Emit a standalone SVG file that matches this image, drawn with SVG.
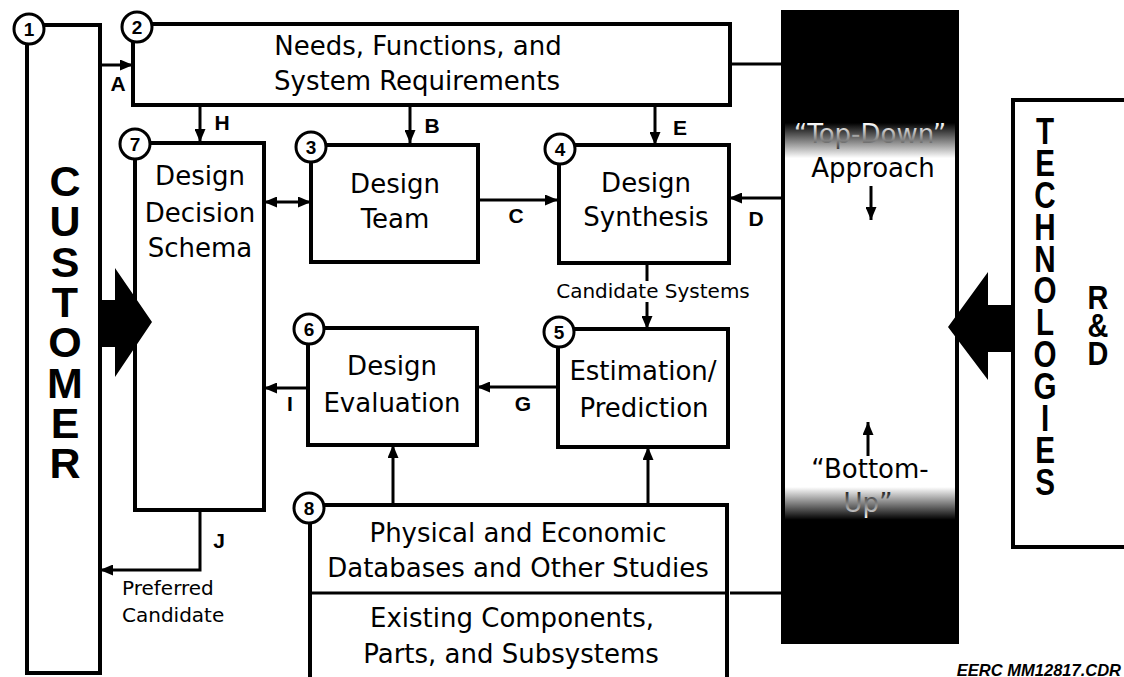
<svg xmlns="http://www.w3.org/2000/svg" width="1124" height="677" viewBox="0 0 1124 677">
<style>
.box{fill:#fff;stroke:#000;stroke-width:4}
.num{fill:#fff;stroke:#000;stroke-width:3}
.numt{font-family:"Liberation Sans",Arial,sans-serif;font-weight:bold;font-size:19px;text-anchor:middle;fill:#000}
.t{font-family:"DejaVu Sans","Liberation Sans",sans-serif;font-size:26px;text-anchor:middle;fill:#000}
.s{font-family:"DejaVu Sans","Liberation Sans",sans-serif;font-size:20px;fill:#000}
.lab{font-family:"Liberation Sans",Arial,sans-serif;font-weight:bold;font-size:21px;text-anchor:middle;fill:#000}
.vert{font-family:"Liberation Sans",Arial,sans-serif;font-weight:bold;fill:#000;writing-mode:vertical-rl;text-orientation:upright}
.conn{fill:none;stroke:#000;stroke-width:3}
</style>
<defs>
<marker id="ah" markerUnits="userSpaceOnUse" markerWidth="13" markerHeight="11" refX="13" refY="5.5" orient="auto-start-reverse">
<path d="M0,0 L13,5.5 L0,11 z" fill="#000"/>
</marker>
<linearGradient id="bandGrad" gradientUnits="userSpaceOnUse" x1="0" y1="12" x2="0" y2="642">
<stop offset="0" stop-color="#000"/>
<stop offset="0.176" stop-color="#000"/>
<stop offset="0.232" stop-color="#fff"/>
<stop offset="0.754" stop-color="#fff"/>
<stop offset="0.806" stop-color="#000"/>
<stop offset="1" stop-color="#000"/>
</linearGradient>
<linearGradient id="invGrad" gradientUnits="userSpaceOnUse" x1="0" y1="12" x2="0" y2="642">
<stop offset="0" stop-color="#fff"/>
<stop offset="0.176" stop-color="#fff"/>
<stop offset="0.232" stop-color="#000"/>
<stop offset="0.754" stop-color="#000"/>
<stop offset="0.806" stop-color="#fff"/>
<stop offset="1" stop-color="#fff"/>
</linearGradient>
</defs>
<rect width="1124" height="677" fill="#fff"/>

<g id="approach-band">
<rect x="783" y="12" width="174" height="630" fill="url(#bandGrad)" stroke="#000" stroke-width="4"/>
<text class="t" x="870" y="143" style="fill:url(#invGrad)">“Top-Down”</text>
<text class="t" x="873" y="177">Approach</text>
<text class="t" x="870" y="478">“Bottom-</text>
<text class="t" x="868" y="512" style="fill:url(#invGrad)">Up”</text>
</g>

<g id="connectors">
<path class="conn" d="M100,65 H133" marker-end="url(#ah)"/>
<path class="conn" d="M200,105 V142" marker-end="url(#ah)"/>
<path class="conn" d="M410,105 V143" marker-end="url(#ah)"/>
<path class="conn" d="M655,105 V145" marker-end="url(#ah)"/>
<path class="conn" d="M264,202 H311" marker-start="url(#ah)" marker-end="url(#ah)"/>
<path class="conn" d="M478,200 H558" marker-end="url(#ah)"/>
<path class="conn" d="M783,198 H729" marker-end="url(#ah)"/>
<path class="conn" d="M647,263 V281"/>
<path class="conn" d="M647,302 V329" marker-end="url(#ah)"/>
<path class="conn" d="M558,387 H477" marker-end="url(#ah)"/>
<path class="conn" d="M308,388 H264" marker-end="url(#ah)"/>
<path class="conn" d="M393,505 V445" marker-end="url(#ah)"/>
<path class="conn" d="M648,505 V447" marker-end="url(#ah)"/>
<path class="conn" d="M200,510 V570 H100" marker-end="url(#ah)"/>
<path class="conn" d="M730,64 H783"/>
<path class="conn" d="M730,593 H783"/>
<path class="conn" d="M871,186 V220" marker-end="url(#ah)"/>
<path class="conn" d="M868,456 V422" marker-end="url(#ah)"/>
<text class="lab" x="118" y="91">A</text>
<text class="lab" x="222" y="130">H</text>
<text class="lab" x="432" y="133">B</text>
<text class="lab" x="680" y="135">E</text>
<text class="lab" x="516" y="223">C</text>
<text class="lab" x="756" y="226">D</text>
<text class="lab" x="523" y="411">G</text>
<text class="lab" x="290" y="411">I</text>
<text class="lab" x="219" y="548">J</text>
<text class="s" x="653" y="298" text-anchor="middle">Candidate Systems</text>
<text class="s" x="122" y="595">Preferred</text>
<text class="s" x="122" y="622">Candidate</text>
</g>

<g id="node1-customer">
<rect class="box" x="27" y="25" width="73" height="648"/>
<text class="vert" x="65" y="157" style="font-size:43px;letter-spacing:-7.7px">CUSTOMER</text>
<circle class="num" cx="29" cy="29" r="15"/>
<text class="numt" x="29" y="36">1</text>
</g>

<g id="node2-needs">
<rect class="box" x="133" y="24" width="597" height="81"/>
<text class="t" x="418" y="55">Needs, Functions, and</text>
<text class="t" x="417" y="90">System Requirements</text>
<circle class="num" cx="137" cy="27" r="15"/>
<text class="numt" x="137" y="34">2</text>
</g>

<g id="node7-schema">
<rect class="box" x="135" y="143" width="129" height="367"/>
<text class="t" x="200" y="185">Design</text>
<text class="t" x="200" y="222">Decision</text>
<text class="t" x="200" y="257">Schema</text>
<circle class="num" cx="135" cy="144" r="15"/>
<text class="numt" x="135" y="151">7</text>
</g>

<g id="node3-team">
<rect class="box" x="311" y="145" width="167" height="117"/>
<text class="t" x="395" y="193">Design</text>
<text class="t" x="395" y="228">Team</text>
<circle class="num" cx="311" cy="147" r="15"/>
<text class="numt" x="311" y="154">3</text>
</g>

<g id="node4-synthesis">
<rect class="box" x="559" y="145" width="170" height="118"/>
<text class="t" x="646" y="192">Design</text>
<text class="t" x="646" y="226">Synthesis</text>
<circle class="num" cx="560" cy="149" r="15"/>
<text class="numt" x="560" y="156">4</text>
</g>

<g id="node5-estimation">
<rect class="box" x="558" y="329" width="170" height="118"/>
<text class="t" x="643" y="380">Estimation/</text>
<text class="t" x="644" y="417">Prediction</text>
<circle class="num" cx="559" cy="332" r="15"/>
<text class="numt" x="559" y="339">5</text>
</g>

<g id="node6-evaluation">
<rect class="box" x="308" y="328" width="169" height="117"/>
<text class="t" x="392" y="375">Design</text>
<text class="t" x="392" y="412">Evaluation</text>
<circle class="num" cx="309" cy="329" r="15"/>
<text class="numt" x="309" y="336">6</text>
</g>

<g id="node8-databases">
<rect class="box" x="310" y="505" width="417" height="185"/>
<line x1="310" y1="593" x2="727" y2="593" stroke="#000" stroke-width="3"/>
<text class="t" x="518" y="542">Physical and Economic</text>
<text class="t" x="518" y="577">Databases and Other Studies</text>
<text class="t" x="512" y="627">Existing Components,</text>
<text class="t" x="511" y="663">Parts, and Subsystems</text>
<circle class="num" cx="309" cy="508" r="15"/>
<text class="numt" x="309" y="515">8</text>
</g>

<g id="technologies">
<rect class="box" x="1013" y="100" width="200" height="447"/>
<g transform="translate(1045 0) scale(0.8 1)">
<text class="vert" x="0" y="111" style="font-size:37px;letter-spacing:-9px">TECHNOLOGIES</text>
</g>
<g transform="translate(1098 0) scale(0.85 1)">
<text class="vert" x="0" y="278" style="font-size:34px;letter-spacing:-11px">R&amp;D</text>
</g>
</g>

<g id="input-arrows">
<polygon points="100,300 115,300 115,268 152,322 115,377 115,347 100,347" fill="#000"/>
<polygon points="1013,305 988,305 988,272 948,327 988,380 988,352 1013,352" fill="#000"/>
</g>

<text x="1121" y="676" text-anchor="end" font-family="Liberation Sans, Arial, sans-serif" font-weight="bold" font-style="italic" font-size="16.5">EERC MM12817.CDR</text>
</svg>
